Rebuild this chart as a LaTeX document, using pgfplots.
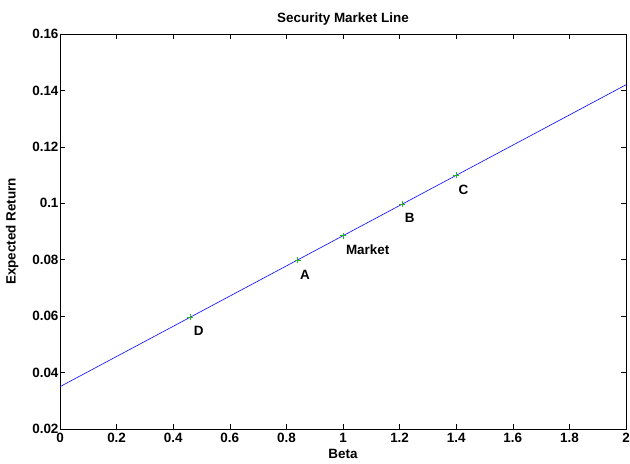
\documentclass[border=0pt]{standalone}
\usepackage{pgfplots}
\pgfplotsset{compat=1.18}
\usepackage{fontspec}
\setmainfont{Liberation Sans}
\begin{document}
\begin{tikzpicture}
\begin{axis}[
  scale only axis,
  width=566bp, height=395bp,
  xmin=0, xmax=2, ymin=0.02, ymax=0.16,
  xtick={0,0.2,...,2},
  ytick={0.02,0.04,0.06,0.08,0.1,0.12,0.14,0.16},
  xticklabels={0,0.2,0.4,0.6,0.8,1,1.2,1.4,1.6,1.8,2},
  yticklabels={0.02,0.04,0.06,0.08,0.1,0.12,0.14,0.16},
  tick align=inside,
  major tick length=5bp,
  tick style={black, line width=0.6pt},
  axis line style={black, line width=0.6pt},
  every tick label/.append style={font=\fontsize{13.5}{15}\selectfont\bfseries},
  xticklabel style={yshift=-1bp},
  yticklabel style={xshift=2bp},
  title={Security Market Line},
  title style={font=\fontsize{13.5}{15}\selectfont\bfseries, yshift=-1bp},
  xlabel={Beta},
  ylabel={Expected Return},
  label style={font=\fontsize{13.5}{15}\selectfont\bfseries},
  xlabel style={yshift=1bp},
  ylabel style={yshift=7bp},
  clip=true,
]
\addplot[blue, line width=0.6pt, no marks] coordinates {(0,0.035) (2,0.142)};
\addplot[only marks, mark=+, mark size=3bp, color={rgb,255:red,40;green,180;blue,40}, line width=0.5pt]
  coordinates {(0.46,0.0597) (0.84,0.0799) (1.0,0.0885) (1.21,0.0997) (1.4,0.1099)};
\node[anchor=west, font=\fontsize{13.5}{15}\selectfont\bfseries, inner sep=0pt] at (axis cs:0.472,0.0547) {D};
\node[anchor=west, font=\fontsize{13.5}{15}\selectfont\bfseries, inner sep=0pt] at (axis cs:0.848,0.0748) {A};
\node[anchor=west, font=\fontsize{13.5}{15}\selectfont\bfseries, inner sep=0pt] at (axis cs:1.01,0.0835) {Market};
\node[anchor=west, font=\fontsize{13.5}{15}\selectfont\bfseries, inner sep=0pt] at (axis cs:1.218,0.0947) {B};
\node[anchor=west, font=\fontsize{13.5}{15}\selectfont\bfseries, inner sep=0pt] at (axis cs:1.408,0.1049) {C};
\end{axis}
\pgfresetboundingbox
\path ([xshift=-60bp,yshift=-35bp]current axis.south west) rectangle ([xshift=4bp,yshift=34bp]current axis.north east);
\end{tikzpicture}
\end{document}
